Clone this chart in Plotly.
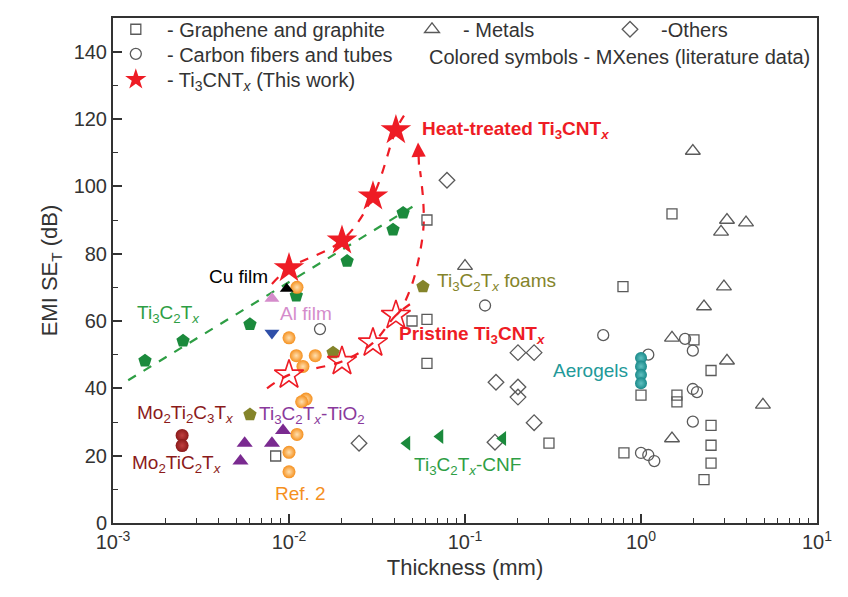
import numpy as np
import plotly.graph_objects as go

# ---------------- data ----------------
# Gray literature data (thickness mm, EMI SE dB)
graphene_x = [0.0608, 0.050, 0.0608, 0.0608, 0.30, 0.79, 0.80, 1.5, 2.0, 2.5, 1.0, 1.6, 1.6, 2.5, 2.5, 2.5, 2.28, 0.0084]
graphene_y = [90, 60, 60.5, 47.4, 23.7, 70.2, 20.8, 91.8, 54.4, 45.3, 38, 38, 36, 29, 23.1, 17.8, 12.9, 19.9]

carbon_x = [0.015, 0.130, 0.61, 1.1, 1.78, 1.97, 1.97, 2.08, 1.97, 1.0, 1.1, 1.19]
carbon_y = [57.6, 64.6, 55.8, 50, 54.7, 51.2, 39.8, 38.9, 30.1, 20.8, 20.2, 18.4]

metals_x = [0.1, 1.97, 3.08, 2.85, 3.95, 2.96, 2.28, 1.5, 3.08, 4.93, 1.5]
metals_y = [76.3, 110.5, 90, 86.5, 89.2, 70.2, 64.3, 55, 48.2, 35.1, 25.1]

others_x = [0.079, 0.2, 0.247, 0.15, 0.2, 0.2, 0.247, 0.148, 0.025]
others_y = [101.8, 50.6, 50.6, 41.8, 40.4, 37.4, 29.8, 24, 23.7]

# This work
ti3cnt_x = [0.01, 0.02, 0.03, 0.0405]
heat_y = [75.7, 83.9, 97.0, 116.7]
pristine_y = [44.0, 48.0, 53.5, 61.7]

# Trend lines (dashed)
heat_line_x = [0.008, 0.01, 0.02, 0.03, 0.0405, 0.045]
heat_line_y = [71, 75.7, 83.9, 97.0, 116.7, 121]
pris_line_x = [0.0075, 0.01, 0.02, 0.03, 0.0405, 0.052]
pris_line_y = [40.0, 44.0, 48.0, 53.5, 61.7, 66.0]
arrow_line_x = [0.0405, 0.0428, 0.0508, 0.0578, 0.0580, 0.0556]
arrow_line_y = [61.7, 63.0, 72.0, 86.5, 95.0, 104.5]
green_line_x = [0.00122, 0.052]
green_line_y = [42.4, 94.4]

# MXene literature (coloured)
ti3c2_x = [0.00152, 0.0025, 0.006, 0.011, 0.0214, 0.039, 0.0445]
ti3c2_y = [48.2, 54.1, 59.0, 67.5, 77.8, 87.1, 92.1]

ref2_x = [0.0111, 0.010, 0.011, 0.0141, 0.012, 0.0125, 0.0118, 0.0111, 0.010, 0.010]
ref2_y = [70.0, 55.0, 49.7, 49.7, 46.5, 36.8, 36.0, 26.3, 21.0, 15.2]

foam_x = [0.0577, 0.0178, 0.006]
foam_y = [70.2, 50.6, 32.2]

tio2_x = [0.0056, 0.0080, 0.00925, 0.0053]
tio2_y = [23.7, 23.7, 27.5, 18.4]

mo_x = [0.00247, 0.00247]
mo_y = [26.0, 23.0]

cnf_x = [0.0468, 0.0721, 0.164]
cnf_y = [23.7, 25.7, 25.1]

aero_x = [1.0, 1.0, 1.0, 1.0]
aero_y = [49.0, 46.5, 44.0, 41.5]

cu_x, cu_y = [0.0097], [69.6]
al_x, al_y = [0.008], [66.7]
blue_x, blue_y = [0.008], [56.4]

x_tickvals = [0.001, 0.01, 0.1, 1, 10]
x_ticktext = ["10<sup>-3</sup>", "10<sup>-2</sup>", "10<sup>-1</sup>", "10<sup>0</sup>", "10<sup>1</sup>"]

# ---------------- style ----------------
FONT = "Arial, Liberation Sans, Helvetica, sans-serif"
RED = "#ee1c25"
GRAY = "#5a5a5a"
GREEN = "#1b8a3c"
GREEN_T = "#2e9e44"
OLIVE = "#84842a"
ORANGE = "#f5901e"
PURPLE = "#7a2a90"
DRED = "#8b1a1a"
TEAL = "#1a8a8a"
PINK = "#d58ccb"
BLUE = "#2f4fa8"

fig = go.Figure()

def pts(x, y, symbol, size, color, line_color=None, line_w=0, name=None, legend=None, showlegend=False, gradient=None):
    m = dict(symbol=symbol, size=size, color=color,
             line=dict(color=line_color or color, width=line_w))
    if gradient:
        m["gradient"] = dict(type="radial", color=gradient)
    tr = go.Scatter(x=x, y=y, mode="markers", marker=m, name=name or "",
                    showlegend=showlegend, hoverinfo="x+y")
    if legend:
        tr.legend = legend
    fig.add_trace(tr)

def dline(x, y, color, spline=True):
    fig.add_trace(go.Scatter(x=x, y=y, mode="lines",
                             line=dict(color=color, width=2.2, dash="dash",
                                       shape="spline" if spline else "linear"),
                             showlegend=False, hoverinfo="skip"))

# dashed lines first
dline(green_line_x, green_line_y, GREEN_T, spline=False)
dline(heat_line_x, heat_line_y, RED)
dline(pris_line_x, pris_line_y, RED)
dline(arrow_line_x, arrow_line_y, RED)

# gray literature
pts(graphene_x, graphene_y, "square-open", 10, GRAY, line_w=1.3,
    name="  - Graphene and graphite", legend="legend", showlegend=True)
pts(carbon_x, carbon_y, "circle-open", 11, GRAY, line_w=1.3,
    name="  - Carbon fibers and tubes", legend="legend4", showlegend=True)
pts(metals_x, metals_y, "triangle-up-open", 13, GRAY, line_w=1.3,
    name="  - Metals", legend="legend2", showlegend=True)
pts(others_x, others_y, "diamond-open", 12, GRAY, line_w=1.3,
    name="  -Others", legend="legend3", showlegend=True)

# coloured MXene literature
pts(ti3c2_x, ti3c2_y, "pentagon", 14, GREEN)
pts(ref2_x, ref2_y, "circle", 13, ORANGE, gradient="#ffe0b0")
pts(foam_x, foam_y, "pentagon", 14, OLIVE)
pts(tio2_x, tio2_y, "triangle-up", 14, PURPLE)
pts(mo_x, mo_y, "circle", 13, DRED, gradient="#c04040")
pts(cnf_x, cnf_y, "triangle-left", 13, GREEN)
pts(aero_x, aero_y, "circle", 12, TEAL, gradient="#60c0c0")
pts(cu_x, cu_y, "triangle-up", 12, "black")
pts(al_x, al_y, "triangle-up", 13, PINK)
pts(blue_x, blue_y, "triangle-down", 13, BLUE)

# this work
pts(ti3cnt_x, pristine_y, "star-open", 22, RED, line_w=1.6)
pts(ti3cnt_x, heat_y, "star", 23, RED, line_w=0,
    name="  - Ti<sub>3</sub>CNT<sub><i>x</i></sub> (This work)", legend="legend5", showlegend=True)

L = np.log10

def label(text, x, y, color, anchor="left", size=19, bold=False):
    if bold:
        text = "<b>" + text + "</b>"
    fig.add_annotation(x=L(x), y=y, xref="x", yref="y", text=text, showarrow=False,
                       xanchor=anchor, yanchor="middle",
                       font=dict(family=FONT, size=size, color=color))

label("Heat-treated Ti<sub>3</sub>CNT<sub><i>x</i></sub>", 0.0555, 116.7, RED, bold=True)
label("Pristine Ti<sub>3</sub>CNT<sub><i>x</i></sub>", 0.0411, 55.8, RED, bold=True)
label("Cu film", 0.0078, 73.1, "black", anchor="right")
label("Al film", 0.00866, 62.3, PINK)
label("Ti<sub>3</sub>C<sub>2</sub>T<sub><i>x</i></sub>", 0.00133, 62.0, GREEN_T)
label("Ti<sub>3</sub>C<sub>2</sub>T<sub><i>x</i></sub> foams", 0.0676, 71.6, OLIVE)
label("Aerogels", 0.866, 45.3, "#229999", anchor="right")
label("Mo<sub>2</sub>Ti<sub>2</sub>C<sub>3</sub>T<sub><i>x</i></sub>", 0.00133, 32.5, DRED)
label("Mo<sub>2</sub>TiC<sub>2</sub>T<sub><i>x</i></sub>", 0.00125, 17.5, DRED)
label("Ti<sub>3</sub>C<sub>2</sub>T<sub><i>x</i></sub>-TiO<sub>2</sub>", 0.00658, 32.2, "#8a3a9c")
label("Ref. 2", 0.0081, 8.8, ORANGE)
label("Ti<sub>3</sub>C<sub>2</sub>T<sub><i>x</i></sub>-CNF", 0.05, 17.0, GREEN_T)

# arrow head of the pristine -> heat-treated curve
fig.add_annotation(x=L(0.0541), y=113, ax=L(0.0548), ay=106, xref="x", yref="y",
                   axref="x", ayref="y", text="", showarrow=True,
                   arrowhead=2, arrowsize=1.3, arrowwidth=2.2, arrowcolor=RED)

# legend caption text
fig.add_annotation(x=(427 - 113) / 704, y=(523 - 50) / 513, xref="paper", yref="paper",
                   text="Colored symbols - MXenes (literature data)", showarrow=False,
                   xanchor="left", yanchor="middle",
                   font=dict(family=FONT, size=20, color="#333333"))

minor_vals = [k * 10.0 ** e for e in range(-3, 1) for k in range(2, 10)]

leg_common = dict(font=dict(family=FONT, size=20, color="#333333"), bgcolor="rgba(0,0,0,0)",
                  borderwidth=0, xanchor="left", yanchor="top", tracegroupgap=0,
                  itemsizing="trace")

def row_top(center_px):
    return (523 - (center_px - 24.4)) / 513

fig.update_layout(
    width=848, height=597,
    margin=dict(l=113, r=31, t=10, b=74),
    paper_bgcolor="white", plot_bgcolor="white",
    font=dict(family=FONT, size=20, color="#333333"),
    xaxis=dict(type="log", range=[-3, 1], tickvals=x_tickvals, ticktext=x_ticktext,
               ticks="inside", ticklen=9, tickwidth=1.5, tickcolor="#333",
               minor=dict(tickvals=minor_vals, ticks="inside", ticklen=5, tickwidth=1.3,
                          tickcolor="#333", showgrid=False),
               showline=True, linewidth=2, linecolor="#333", mirror=True,
               showgrid=False, zeroline=False,
               tickfont=dict(family=FONT, size=20, color="#333"),
               title=dict(text="Thickness (mm)", font=dict(family=FONT, size=22, color="#333"),
                          standoff=8)),
    yaxis=dict(range=[0, 150], tickvals=[0, 20, 40, 60, 80, 100, 120, 140],
               ticks="inside", ticklen=9, tickwidth=1.5, tickcolor="#333",
               minor=dict(dtick=10, ticks="inside", ticklen=5, tickwidth=1.3,
                          tickcolor="#333", showgrid=False),
               showline=True, linewidth=2, linecolor="#333", mirror=True,
               showgrid=False, zeroline=False,
               tickfont=dict(family=FONT, size=20, color="#333"),
               title=dict(text="EMI SE<sub>T</sub> (dB)", font=dict(family=FONT, size=22, color="#333"),
                          standoff=10)),
    legend=dict(x=0.004, y=row_top(26), **leg_common),
    legend4=dict(x=0.004, y=row_top(51), **leg_common),
    legend5=dict(x=0.004, y=row_top(77), **leg_common),
    legend2=dict(x=(412 - 113) / 704, y=row_top(26), **leg_common),
    legend3=dict(x=(610 - 113) / 704, y=row_top(26), **leg_common),
)

fig.write_html("out.html")
